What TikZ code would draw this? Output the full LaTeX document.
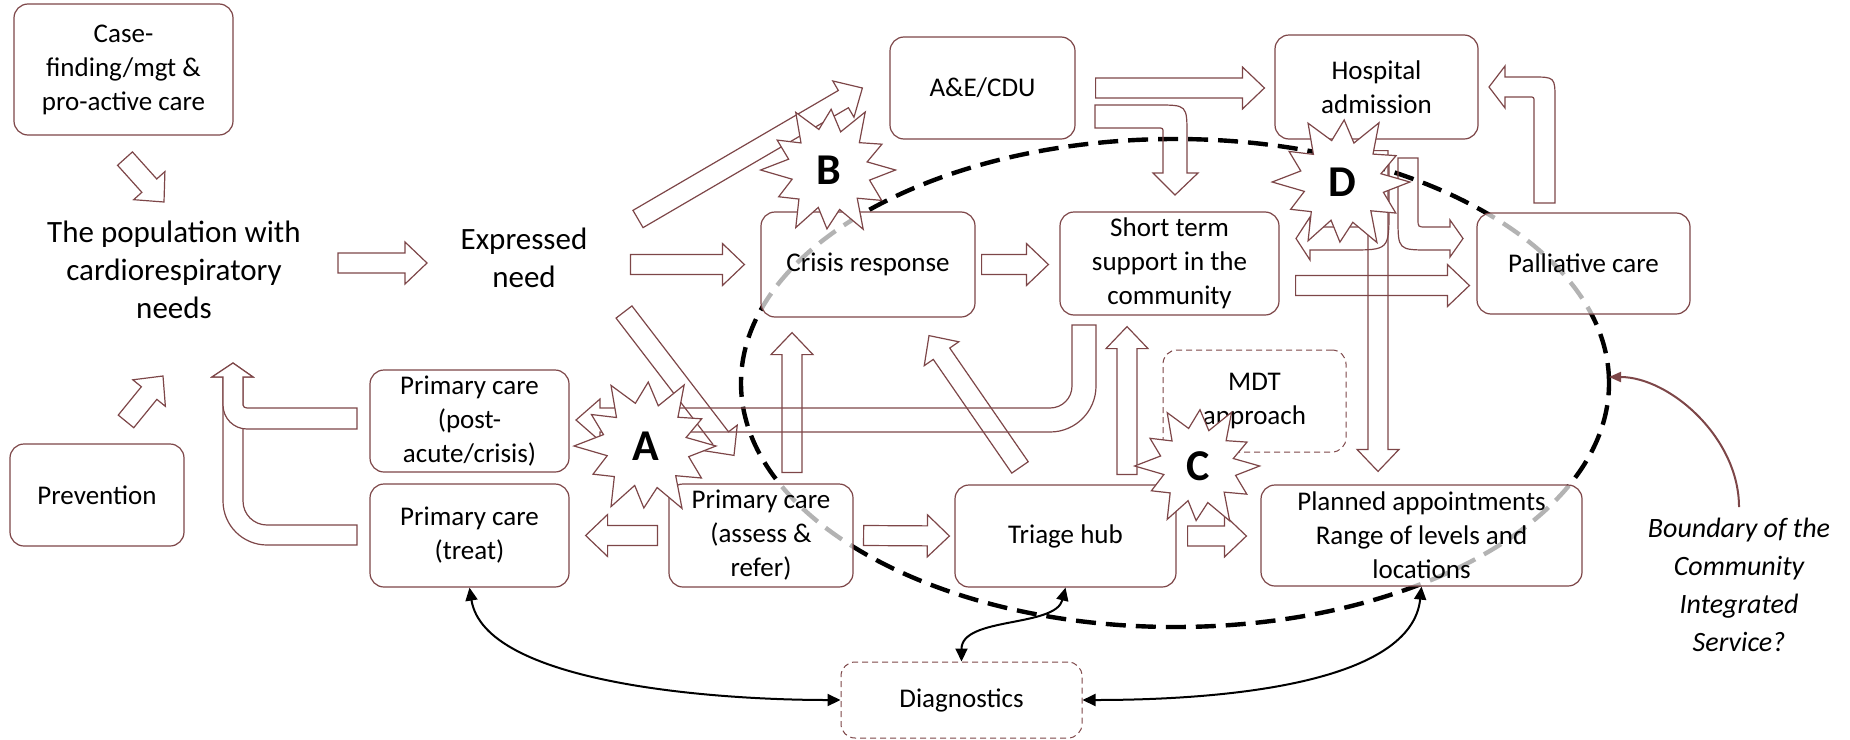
\documentclass[tikz,border=0pt]{standalone}
\usepackage{fontspec}
\setmainfont{Carlito}
\usetikzlibrary{arrows.meta,calc}
\definecolor{brn}{RGB}{125,70,72}
\newcommand{\boxfont}{\fontsize{13.5}{17}\selectfont}
\newcommand{\bigfont}{\fontsize{15.5}{19}\selectfont}
\newcommand{\notefont}{\fontsize{14}{19}\selectfont\itshape}
\newcommand{\burstfont}{\fontsize{22}{22}\selectfont\bfseries}
% hollow block arrow from #1 to #2
\newcommand{\barrow}[2]{%
  \draw[blk] let \p1=#1, \p2=#2, \n1={atan2(\y2-\y1,\x2-\x1)},
    \n2={10*veclen((\x2-\x1)/10,(\y2-\y1)/10)} in
    [shift={(\p1)}, rotate=\n1]
    (0pt,-5pt) -- (\n2-11pt,-5pt) -- (\n2-11pt,-10.5pt) -- (\n2+0pt,0pt)
    -- (\n2-11pt,10.5pt) -- (\n2-11pt,5pt) -- (0pt,5pt) -- cycle;}
% explosion mark: name, centre, scale, letter
\newcommand{\burst}[4]{%
  \draw[burstline, shift={(#2)}, scale=#3] (0:70)
    \foreach \a/\r in {14/44, 30/64, 45/42, 60/72, 75/43, 92/62, 106/41, 120/70,
      136/44, 152/60, 166/40, 180/72, 195/44, 210/63, 224/41, 240/70, 256/44,
      272/64, 287/42, 302/72, 318/43, 334/62, 348/41} { -- (\a:\r) } -- cycle;
  \node[font=\burstfont, inner sep=0pt] (#1) at (#2) {#4};}
\tikzset{
  box/.style={draw=brn, line width=0.6pt, rounded corners=7pt, fill=white,
    fill opacity=0.7, text opacity=1, align=center, font=\boxfont, inner sep=1pt},
  dbox/.style={box, line width=0.5pt, dash pattern=on 3pt off 2pt},
  blk/.style={draw=brn, line width=0.6pt},
  burstline/.style={draw=brn, line width=0.6pt, fill=white},
  bound/.style={black, line width=2.2pt, dash pattern=on 10pt off 5pt},
  link/.style={black, line width=1pt, {Triangle[length=6.5pt,width=6pt]}-{Triangle[length=6.5pt,width=6pt]}},
  pointer/.style={brn, line width=1pt, -{Triangle[length=6pt,width=5pt]}},
}
\begin{document}
\begin{tikzpicture}[x=0.5pt, y=-0.5pt]
    \useasboundingbox (0,0) rectangle (1850,739);

    % boundary of the service
    \draw[bound] (1175,383) ellipse [x radius=217pt, y radius=122pt];

    % boxes
    \node[box, minimum width=109.5pt, minimum height=65.5pt] (casef) at (123.5,69.5) {Case-\\finding/mgt \&\\pro-active care};
    \node[box, minimum width=87pt, minimum height=51pt] (prev) at (97,495) {Prevention};
    \node[box, minimum width=99.5pt, minimum height=51pt] (post) at (469.5,421) {Primary care\\(post-\\acute/crisis)};
    \node[box, minimum width=99.5pt, minimum height=51.5pt] (treat) at (469.5,535.5) {Primary care\\(treat)};
    \node[box, minimum width=92pt, minimum height=51.5pt] (assess) at (761,535.5) {Primary care\\(assess \&\\refer)};
    \node[box, minimum width=110.5pt, minimum height=51pt] (triage) at (1065.5,536) {Triage hub};
    \node[box, minimum width=160.5pt, minimum height=50.5pt] (plan) at (1421.5,535.5) {Planned appointments\\Range of levels and\\locations};
    \node[box, minimum width=92.5pt, minimum height=51pt] (ae) at (982.5,88) {A\&E/CDU};
    \node[box, minimum width=101.5pt, minimum height=52pt] (hosp) at (1376.5,87) {Hospital\\admission};
    \node[box, minimum width=107pt, minimum height=52.5pt] (crisis) at (868,264.5) {Crisis response};
    \node[box, minimum width=109.5pt, minimum height=51.5pt] (short) at (1169.5,263.5) {Short term\\support in the\\community};
    \node[box, minimum width=106.5pt, minimum height=50.5pt] (pall) at (1583.5,263.5) {Palliative care};
    \node[dbox, minimum width=91.5pt, minimum height=51pt] (mdt) at (1254.5,401) {MDT\\approach};
    \node[dbox, minimum width=120.5pt, minimum height=38pt] (diag) at (961.5,700) {Diagnostics};

    % free text
    \node[align=center, font=\bigfont] (pop) at (174,270) {The population with\\cardiorespiratory\\needs};
    \node[align=center, font=\bigfont] (expr) at (524,258) {Expressed\\need};
    \node[align=center, font=\notefont] (note) at (1739,585) {Boundary of the\\Community\\Integrated\\Service?};

    % bent arrows back to the population
    \draw[blk, fill=white] (357,525) -- (267,525) .. controls (253.7,525) and (243,514.3) .. (243,501)
      -- (243,377) -- (253,377) -- (233,363) -- (212,377) -- (223,377) -- (223,501)
      .. controls (223,525.3) and (242.7,545) .. (267,545) -- (357,545) -- cycle;
    \draw[blk, fill=white] (357,408) -- (247,408) .. controls (245,408) and (243,406.8) .. (243,405)
      -- (243,377) -- (253,377) -- (233,363) -- (212,377) -- (223,377) -- (223,405)
      .. controls (223,418.3) and (233.7,429) .. (247,429) -- (357,429) -- cycle;

    % straight arrows
    \barrow{([shift={(0.75pt,-11.5pt)}]casef.south)}{(164,202)}
    \barrow{([shift={(14.5pt,11pt)}]prev.north)}{(163,376)}
    \barrow{(338,263)}{(427,263)}
    \barrow{([xshift=-65pt]crisis.west)}{([xshift=-8pt]crisis.west)}
    \coordinate (expr-up) at (638,219);
    \coordinate (expr-down) at (624,312);
    \barrow{(expr-up)}{([xshift=-13.5pt]ae.west)}
    \barrow{(expr-down)}{([shift={(-13.5pt,14pt)}]assess.north)}
    \barrow{([xshift=10pt]ae.east)}{([xshift=-5pt]ae.east -| hosp.west)}
    \barrow{([xshift=3pt]crisis.east)}{([xshift=-5.5pt]crisis.east -| short.west)}
    \barrow{([shift={(8pt,-11pt)}]short.east)}{([shift={(-3.5pt,-11pt)}]pall.west)}
    \barrow{([shift={(15.5pt,5.5pt)}]assess.north)}{([shift={(-38pt,-7.5pt)}]crisis.south)}
    \barrow{([shift={(-22.75pt,8.5pt)}]triage.north)}{([shift={(30.5pt,-9pt)}]crisis.south)}
    \barrow{([shift={(30.75pt,5pt)}]triage.north)}{([shift={(-21.25pt,-5.5pt)}]short.south)}
    \barrow{([xshift=-5.5pt]assess.west)}{([xshift=8pt]treat.east)}
    \barrow{([xshift=5pt]assess.east)}{([xshift=-2.5pt]triage.west)}
    \barrow{([xshift=5.5pt]triage.east)}{([xshift=-7pt]triage.east -| plan.west)}
    \barrow{([shift={(0.75pt,-5.5pt)}]hosp.south)}{([shift={(-21.75pt,6.5pt)}]plan.north)}

    % bent arrows
    \draw[blk] (1095,105) -- (1157,105) .. controls (1187,105) .. (1187,135) -- (1187,173)
      -- (1198,173) -- (1175,195) -- (1153,173) -- (1163,173) -- (1163,133)
      .. controls (1163,128) .. (1158,128) -- (1095,128) -- cycle;
    \draw[blk] (1072,325) -- (1096,325) -- (1096,386) .. controls (1096,411.4) and (1075.4,432) .. (1050,432)
      -- (600,432) -- (600,441) -- (576,420) -- (600,399) -- (600,408) -- (1050,408)
      .. controls (1062.2,408) and (1072,398.2) .. (1072,386) -- cycle;
    \draw[blk] (1534,203) -- (1555,203) -- (1555,100) .. controls (1555,77) .. (1532,77) -- (1505,77)
      -- (1505,66) -- (1489,87) -- (1505,108) -- (1505,97) -- (1529,97)
      .. controls (1534,97) .. (1534,102) -- cycle;
    \draw[blk] (1398,158) -- (1418,158) -- (1418,219) .. controls (1418,227) .. (1426,227) -- (1450,227)
      -- (1450,220) -- (1463,238.5) -- (1450,257) -- (1450,250) -- (1430,250)
      .. controls (1398,250) .. (1398,218) -- cycle;
    \draw[blk] (1367,160) -- (1389,160) -- (1389,210) .. controls (1389,250) .. (1349,250) -- (1310,250)
      -- (1310,260) -- (1296,238.5) -- (1310,217) -- (1310,227) -- (1352,227)
      .. controls (1367,227) .. (1367,212) -- cycle;

    % pressure points
    \burst{burstA}{646,446}{1}{A}
    \burst{burstB}{829,170}{0.95}{B}
    \burst{burstC}{1198,466}{0.88}{C}
    \burst{burstD}{1342,182}{0.97}{D}

    % diagnostics links
    \draw[link] (treat.south) .. controls +(15,95) and +(-130,0) .. (diag.west);
    \draw[link] (triage.south) .. controls +(-10,40) and +(0,-45) .. (diag.north);
    \draw[link] (plan.south) .. controls +(-10,95) and +(150,0) .. (diag.east);

    % boundary label
    \coordinate (edge) at (1609,377);
    \draw[pointer] ([yshift=2pt]note.north) .. controls +(0,-70) and +(60,0) .. (edge);

\end{tikzpicture}
\end{document}
